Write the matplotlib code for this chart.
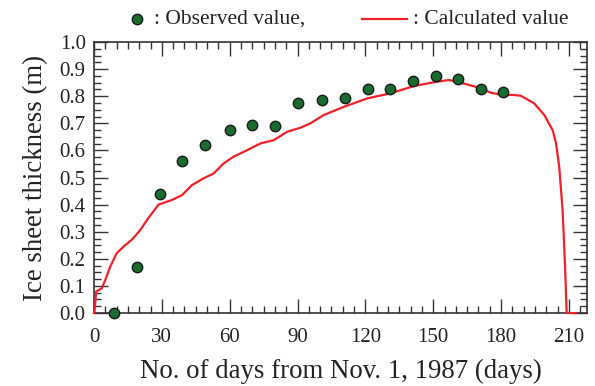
import matplotlib.pyplot as plt
from matplotlib.ticker import MultipleLocator
from matplotlib.lines import Line2D

plt.rcParams["font.family"] = ["Liberation Serif", "DejaVu Serif"]

# observed ice thickness (m) by day since Nov. 1, 1987
obs_days = [9, 19, 29, 39, 49, 60, 70, 80, 90, 101, 111, 121, 131, 141, 151, 161, 171, 181]
obs_thick = [0.0, 0.17, 0.44, 0.56, 0.62, 0.675, 0.695, 0.69, 0.775, 0.785, 0.795, 0.825,
             0.825, 0.855, 0.875, 0.865, 0.825, 0.815]

# calculated ice thickness (m)
calc_days = [0, 0.4, 0.9, 3.4, 4.9, 7.1, 10, 13, 16.7, 20.4, 24, 28.5, 34.4, 38.9, 43.3,
             48.4, 52.9, 57.3, 61.7, 67.7, 73.6, 79.5, 85.4, 91.3, 95.7, 101.6, 110.5,
             120.8, 131.2, 141.5, 151.8, 157, 162.2, 169.6, 175.5, 181.4, 185, 188.7,
             194.6, 199.1, 202.8, 204.3, 205.7, 207.2, 208.3, 209, 213]
calc_thick = [0.0, 0.02, 0.079, 0.091, 0.12, 0.17, 0.22, 0.245, 0.27, 0.306, 0.35, 0.40,
              0.417, 0.435, 0.472, 0.497, 0.515, 0.552, 0.577, 0.601, 0.626, 0.638, 0.669,
              0.684, 0.70, 0.731, 0.761, 0.792, 0.811, 0.838, 0.854, 0.86, 0.85, 0.833,
              0.813, 0.804, 0.805, 0.802, 0.774, 0.731, 0.675, 0.626, 0.54, 0.38, 0.171,
              0.0, 0.0]

red = "#ee2028"
green = "#1a6b2e"

fig = plt.figure(figsize=(5.95, 3.86), dpi=100)
ax = fig.add_axes([0.158, 0.189, 0.8286, 0.702])

ax.plot(calc_days, calc_thick, color=red, lw=1.6, zorder=4, clip_on=False)
ax.plot(obs_days, obs_thick, "o", ms=7.5, mfc=green, mec="#1a1a1a", mew=1.0,
        zorder=5, clip_on=False)

ax.set_xlim(0, 218)
ax.set_ylim(0, 1.0)
ax.xaxis.set_major_locator(MultipleLocator(30))
ax.xaxis.set_minor_locator(MultipleLocator(5))
ax.yaxis.set_major_locator(MultipleLocator(0.1))
ax.yaxis.set_minor_locator(MultipleLocator(0.025))
ax.yaxis.set_major_formatter(plt.FormatStrFormatter("%.1f"))

ax.tick_params(which="both", direction="in", top=True, right=True, colors="#333333",
               labelcolor="#222222", labelsize=15, width=1.0)
ax.tick_params(which="major", length=10)
ax.tick_params(which="minor", length=5)
ax.tick_params(axis="x", pad=11)
ax.tick_params(axis="y", pad=6)
for s in ax.spines.values():
    s.set_color("#333333")
    s.set_linewidth(1.2)

ax.set_xlabel("No. of days from Nov. 1, 1987 (days)", fontsize=19.3, color="#222222",
              labelpad=8)
ax.set_ylabel("Ice sheet thickness (m)", fontsize=19.3, color="#222222", labelpad=8)

# key above the plot
key_y = 1 - 19 / 386
fig.add_artist(Line2D([137 / 595], [key_y], ls="none", marker="o", ms=7.5,
                      mfc=green, mec="#1a1a1a", mew=1.0, transform=fig.transFigure))
fig.text(154 / 595, key_y, ": Observed value,", fontsize=15.5, color="#222222",
         va="center", ha="left")
fig.add_artist(Line2D([362 / 595, 407 / 595], [key_y, key_y], color=red,
                      lw=1.6, transform=fig.transFigure))
fig.text(413 / 595, key_y, ": Calculated value", fontsize=15.5, color="#222222",
         va="center", ha="left")

fig.savefig("out.png", dpi=100)
